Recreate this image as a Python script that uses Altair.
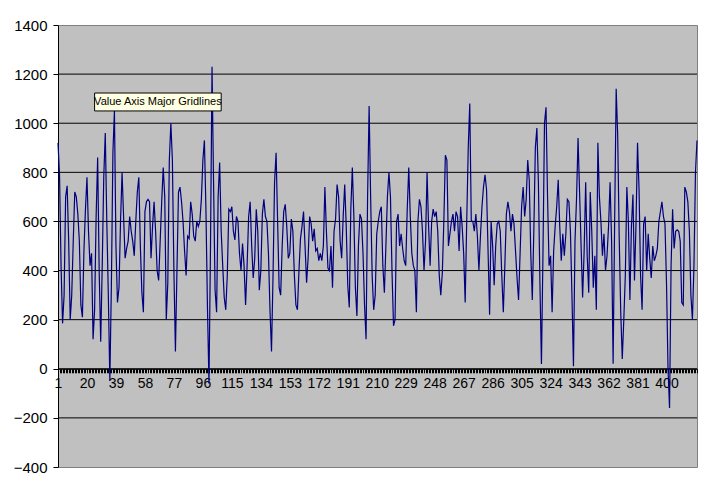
import altair as alt
import pandas as pd

# ---- data ----
series_values = [
    920, 790, 420, 185, 300, 700, 745, 520, 200, 300,
    520, 720, 700, 630, 520, 260, 210, 480, 650, 780,
    560, 420, 470, 120, 240, 620, 860, 400, 110, 420,
    780, 960, 600, 300, -50, 340, 880, 1050, 500, 270,
    330, 600, 800, 620, 450, 490, 520, 620, 560, 520,
    460, 600, 720, 780, 500, 310, 230, 640, 680, 690,
    680, 450, 580, 680, 560, 400, 360, 520, 680, 820,
    700, 200, 350, 850, 1000, 850, 400, 70, 400, 720,
    740, 680, 600, 480, 380, 540, 530, 680, 630, 540,
    520, 600, 580, 600, 690, 850, 930, 650, 250, -60,
    500, 1230, 760, 320, 230, 700, 840, 560, 420, 290,
    240, 380, 650, 640, 660, 560, 525, 620, 600, 470,
    400, 510, 420, 260, 420, 620, 680, 500, 370, 450,
    650, 560, 320, 400, 630, 690, 620, 600, 470, 240,
    70, 380, 760, 880, 600, 330, 300, 500, 640, 670,
    580, 450, 470, 610, 560, 380, 260, 240, 400, 530,
    580, 640, 500, 350, 450, 620, 590, 520, 570, 480,
    490, 440, 470, 440, 500, 740, 560, 410, 400, 500,
    330, 560, 610, 750, 700, 520, 450, 620, 750, 580,
    340, 250, 650, 820, 620, 330, 215, 500, 630, 610,
    470, 260, 120, 700, 1070, 700, 380, 240, 300, 550,
    600, 640, 660, 420, 310, 500, 700, 800, 700, 400,
    175, 200, 600, 630, 500, 550, 490, 440, 420, 650,
    820, 620, 470, 420, 400, 230, 600, 690, 660, 560,
    400, 520, 800, 580, 420, 600, 650, 620, 640, 560,
    380, 300, 390, 600, 870, 850, 500, 550, 600, 630,
    560, 640, 620, 480, 660, 580, 470, 270, 600, 900,
    1080, 600, 600, 560, 630, 540, 400, 540, 660, 740,
    790, 730, 480, 220, 600, 500, 340, 500, 590, 600,
    560, 380, 230, 420, 630, 680, 640, 560, 630, 590,
    480, 370, 280, 470, 660, 740, 620, 690, 850, 770,
    470, 280, 560, 900, 980, 760, 350, 20, 470, 1000,
    1065, 700, 420, 460, 230, 480, 580, 660, 770, 580,
    440, 550, 460, 550, 690, 680, 560, 300, 10, 520,
    690, 940, 720, 500, 290, 480, 760, 460, 310, 720,
    560, 330, 460, 240, 920, 700, 600, 460, 550, 400,
    460, 580, 760, 520, 20, 600, 1140, 950, 530, 230,
    40, 200, 380, 740, 600, 280, 580, 710, 360, 590,
    920, 730, 380, 240, 590, 620, 400, 550, 450, 370,
    500, 440, 460, 490, 600, 640, 680, 620, 590, 350,
    0, -160, 420, 650, 490, 560, 566, 560, 520, 270,
    260, 740, 720, 680, 560, 300, 200, 420, 800, 930,
]
categories = list(range(1, len(series_values) + 1))
x_tick_labels = list(range(1, 401, 19))          # 1, 20, 39, ... 400
y_ticks = list(range(-400, 1401, 200))
grid_values = [-200, 0, 200, 400, 600, 800, 1000, 1200]
tooltip_text = ["Value Axis Major Gridlines"]

# ---- layout ----
W, H = 639, 442
Y_MIN, Y_MAX = -400, 1400
FONT = "Liberation Sans"

df = pd.DataFrame({"cat": categories, "val": series_values})
grid_df = pd.DataFrame({"g": grid_values})

xscale = alt.Scale(domain=[1, len(categories)], nice=False, zero=False)
yscale = alt.Scale(domain=[Y_MIN, Y_MAX], nice=False, zero=False)

label_test = " || ".join(f"datum.value == {v}" for v in x_tick_labels)

x_axis = alt.Axis(
    values=categories,
    labelExpr=f"({label_test}) ? datum.label : ''",
    format="d",
    offset=-(0 - Y_MIN) / (Y_MAX - Y_MIN) * H,
    tickSize=4, tickColor="black", tickWidth=1,
    domainColor="black", domainWidth=1,
    labelFont=FONT, labelFontSize=14, labelColor="black",
    labelPadding=4, labelFlush=False, labelOverlap=False,
    grid=False, title="",
)
y_axis = alt.Axis(
    values=y_ticks, format="d",
    tickSize=5, tickColor="black", tickWidth=1,
    domainColor="black", domainWidth=1,
    labelFont=FONT, labelFontSize=15, labelColor="black",
    labelPadding=6, grid=False, title="",
)

grid = alt.Chart(grid_df).mark_rule(color="black", strokeWidth=1).encode(
    y=alt.Y("g:Q", scale=yscale, axis=y_axis)
)

line = alt.Chart(df).mark_line(color="#000080", strokeWidth=1.2).encode(
    x=alt.X("cat:Q", scale=xscale, axis=x_axis),
    y=alt.Y("val:Q", scale=yscale, axis=y_axis),
)

# annotation box (Excel hover tooltip), placed in data coordinates
ann = pd.DataFrame({"x1": [25], "x2": [108], "y1": [1050], "y2": [1123],
                    "xm": [66.5], "ym": [1086], "t": tooltip_text})
box = alt.Chart(ann).mark_rect(fill="#FFFFE1", stroke="black", strokeWidth=1).encode(
    x=alt.X("x1:Q", scale=xscale, axis=x_axis), x2="x2:Q",
    y=alt.Y("y1:Q", scale=yscale, axis=y_axis), y2="y2:Q",
)
txt = alt.Chart(ann).mark_text(font=FONT, fontSize=11, color="black").encode(
    x=alt.X("xm:Q", scale=xscale, axis=x_axis),
    y=alt.Y("ym:Q", scale=yscale, axis=y_axis),
    text="t:N",
)

chart = (
    alt.layer(grid, line, box, txt)
    .properties(
        width=W, height=H,
        autosize=alt.AutoSizeParams(type="none"),
        padding={"left": 50, "top": 17, "right": 3, "bottom": 12},
        background="white",
    )
    .configure_view(fill="#C0C0C0", stroke="#808080", strokeWidth=1)
)

chart.save("out.html", embed_options={"renderer": "svg", "actions": False})
